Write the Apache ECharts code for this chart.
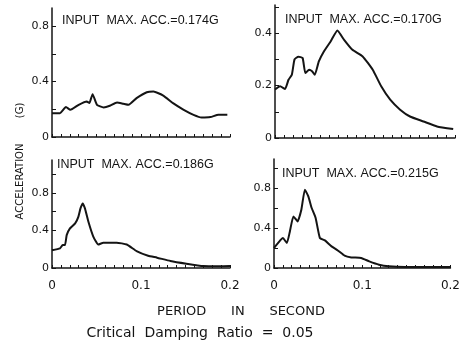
<!DOCTYPE html>
<html>
<head>
<meta charset="utf-8">
<script src="https://cdn.jsdelivr.net/npm/echarts@6/dist/echarts.min.js"></script>
<style>
html,body{margin:0;padding:0;background:#fff;}
#chart{width:463px;height:348px;}
</style>
</head>
<body>
<div id="chart"></div>
<script>
// Panel 1: input max acc 0.174G
const period1 = [0, 0.009, 0.0157, 0.0206, 0.030, 0.039, 0.042, 0.0456, 0.0505, 0.058, 0.065, 0.073, 0.080, 0.086, 0.095, 0.1065, 0.114, 0.125, 0.136, 0.148, 0.159, 0.168, 0.178, 0.187, 0.197];
const accel1  = [0.172, 0.172, 0.216, 0.196, 0.232, 0.256, 0.245, 0.309, 0.232, 0.213, 0.225, 0.249, 0.240, 0.232, 0.280, 0.323, 0.328, 0.299, 0.244, 0.196, 0.160, 0.141, 0.144, 0.160, 0.160];
// Panel 2: input max acc 0.170G
const period2 = [0, 0.0056, 0.0112, 0.015, 0.0187, 0.0217, 0.026, 0.0307, 0.0337, 0.038, 0.0412, 0.0442, 0.0487, 0.0543, 0.0618, 0.0693, 0.0768, 0.086, 0.0974, 0.1086, 0.118, 0.128, 0.139, 0.150, 0.165, 0.180, 0.198];
const accel2  = [0.185, 0.197, 0.187, 0.222, 0.241, 0.300, 0.310, 0.305, 0.248, 0.260, 0.254, 0.241, 0.292, 0.330, 0.368, 0.410, 0.374, 0.336, 0.311, 0.260, 0.197, 0.146, 0.108, 0.082, 0.063, 0.044, 0.034];
// Panel 3: input max acc 0.186G
const period3 = [0, 0.009, 0.012, 0.0146, 0.0165, 0.020, 0.026, 0.0296, 0.032, 0.0345, 0.037, 0.041, 0.0464, 0.052, 0.0577, 0.0727, 0.084, 0.095, 0.108, 0.118, 0.133, 0.151, 0.170, 0.189, 0.200];
const accel3  = [0.190, 0.210, 0.245, 0.245, 0.350, 0.420, 0.475, 0.545, 0.635, 0.688, 0.635, 0.490, 0.335, 0.250, 0.270, 0.270, 0.250, 0.180, 0.130, 0.110, 0.075, 0.046, 0.020, 0.018, 0.021];
// Panel 4: input max acc 0.215G
const period4 = [0, 0.007, 0.010, 0.0146, 0.018, 0.022, 0.0267, 0.031, 0.035, 0.0389, 0.0427, 0.0472, 0.052, 0.0577, 0.0652, 0.0727, 0.080, 0.0876, 0.0988, 0.108, 0.119, 0.130, 0.149, 0.176, 0.200];
const accel4  = [0.200, 0.276, 0.300, 0.250, 0.366, 0.516, 0.466, 0.583, 0.783, 0.716, 0.600, 0.500, 0.300, 0.276, 0.216, 0.173, 0.123, 0.106, 0.100, 0.066, 0.033, 0.017, 0.010, 0.010, 0.010];

const panelNotes = ['INPUT  MAX. ACC.=0.174G', 'INPUT  MAX. ACC.=0.170G', 'INPUT  MAX. ACC.=0.186G', 'INPUT  MAX. ACC.=0.215G'];
const yMax = [0.93, 0.507, 1.15, 1.09];
const yTicks = [[0, 0.2, 0.4, 0.6, 0.8], [0, 0.1, 0.2, 0.3, 0.4, 0.5], [0, 0.2, 0.4, 0.6, 0.8, 1.0], [0, 0.2, 0.4, 0.6, 0.8, 1.0]];
const yLabels = [[0, 0.4, 0.8], [0, 0.2, 0.4], [0, 0.4, 0.8], [0, 0.4, 0.8]];
const xLabels = [0, 0.1, 0.2];
const xTitle = 'PERIOD      IN      SECOND';
const yTitle = 'ACCELERATION        (G)';
const caption = 'Critical  Damping  Ratio  =  0.05';

const periods = [period1, period2, period3, period4];
const accels = [accel1, accel2, accel3, accel4];

const grids = [
  {left: 52, top: 8, width: 178, height: 129},
  {left: 275, top: 5, width: 180, height: 133},
  {left: 52, top: 160, width: 178, height: 108},
  {left: 274, top: 159, width: 178, height: 109}
];
const notePos = [[62, 21], [285, 20], [57, 165], [282, 174]];

const ink = '#141414';
const font = 'DejaVu Sans';

const xAxes = grids.map((g, i) => ({
  type: 'value', gridIndex: i, min: 0, max: 0.2, interval: 0.01,
  axisLine: {show: true, lineStyle: {color: ink, width: 1.5}},
  axisTick: {show: true, inside: true, length: 3, lineStyle: {color: ink, width: 1}},
  axisLabel: {show: i >= 2, customValues: xLabels, margin: 12, color: ink, fontFamily: font, fontSize: 12,
    formatter: v => String(v)},
  splitLine: {show: false}
}));
const yAxes = grids.map((g, i) => ({
  type: 'value', gridIndex: i, min: 0, max: yMax[i],
  axisLine: {show: true, lineStyle: {color: ink, width: 1.5}},
  axisTick: {show: true, inside: true, length: 4, customValues: yTicks[i], lineStyle: {color: ink, width: 1}},
  axisLabel: {show: true, customValues: yLabels[i], margin: 3, color: ink, fontFamily: font, fontSize: 11,
    formatter: v => String(v)},
  splitLine: {show: false}
}));
const series = grids.map((g, i) => ({
  type: 'line', xAxisIndex: i, yAxisIndex: i, smooth: 0.15, symbol: 'none',
  lineStyle: {color: ink, width: 2},
  data: periods[i].map((p, k) => [p, accels[i][k]])
}));

const graphics = panelNotes.map((t, i) => ({
  type: 'text', left: notePos[i][0], top: notePos[i][1] - 7,
  style: {text: t, fill: ink, font: '12.5px "Liberation Sans"'}
}));
graphics.push({type: 'text', x: 241, y: 312, style: {text: xTitle, fill: ink, font: '13px "DejaVu Sans"', align: 'center', verticalAlign: 'middle'}});
graphics.push({type: 'text', x: 200, y: 333, style: {text: caption, fill: ink, font: '14px "DejaVu Sans"', align: 'center', verticalAlign: 'middle'}});
graphics.push({type: 'text', x: 20, y: 161, rotation: Math.PI / 2, style: {text: yTitle, fill: ink, font: '10px "DejaVu Sans"', align: 'center', verticalAlign: 'middle'}});

const chart = echarts.init(document.getElementById('chart'), null, {renderer: 'canvas'});
chart.setOption({
  animation: false,
  backgroundColor: '#fff',
  grid: grids,
  xAxis: xAxes,
  yAxis: yAxes,
  series: series,
  graphic: graphics
});
</script>
</body>
</html>
